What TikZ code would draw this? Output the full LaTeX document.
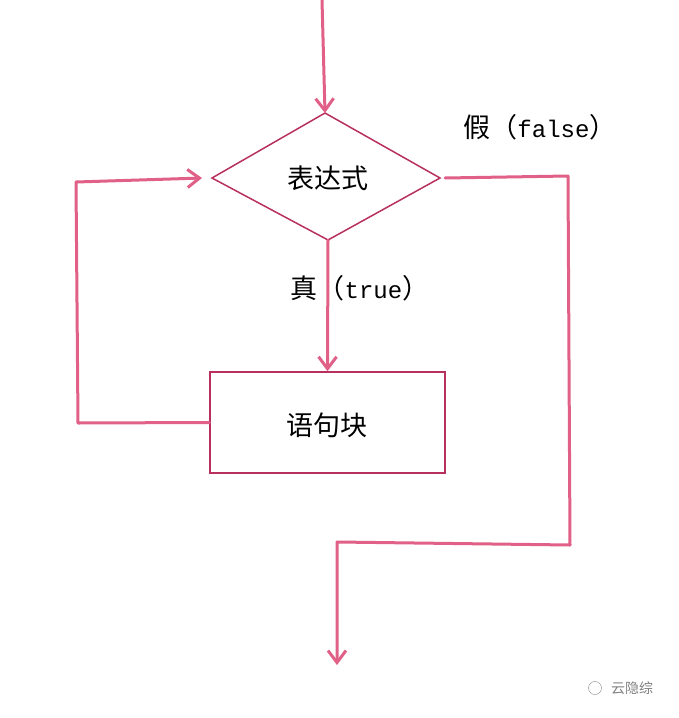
\documentclass[tikz,border=0pt]{standalone}
\usepackage{fontspec}
\setmainfont{Noto Sans CJK SC}
\newfontfamily\mono{Liberation Mono}
\usetikzlibrary{arrows.meta}
\definecolor{pk}{HTML}{E06088}
\definecolor{bx}{HTML}{B83060}
\tikzset{
  flow/.style={draw=pk,line width=3pt,line cap=round,line join=round},
  arr/.style={flow,-{Straight Barb[length=12pt,width=18pt,line width=3pt]}},
  lbl/.style={font=\fontsize{27}{30}\selectfont}
}
\begin{document}
\begin{tikzpicture}[x=1pt,y=-1pt]
\useasboundingbox (0,0) rectangle (678,718);
\coordinate (dt) at (325,113);
\coordinate (dl) at (212,178);
\coordinate (dr) at (440,178);
\coordinate (db) at (328,240);
\draw[bx,line width=1.5pt] (dt) -- (dr) -- (db) -- (dl) -- cycle;
\node[lbl] (cond) at (328,178) {表达式};
\node[draw=bx,line width=1.5pt,minimum width=235pt,minimum height=101pt,inner sep=0pt] (blk) at (327.5,422.5) {};
\node[lbl] (blkt) at (327,425) {语句块};
\coordinate (top) at (322,0);
\draw[arr] (top) -- (dt);
\draw[arr] (db) -- (blk.north);
\coordinate (l1) at (78,423);
\coordinate (l2) at (76,182);
\draw[arr] (blk.west) -- (l1) -- (l2) -- ([xshift=-10pt]dl);
\coordinate (r1) at (568,176);
\coordinate (r2) at (570,545);
\coordinate (r3) at (337,542);
\coordinate (end) at (337,665);
\draw[arr] ([xshift=5pt]dr) -- (r1) -- (r2) -- (r3) -- (end);
\node[lbl] (f) at (540,127) {假（{\mono\fontsize{24}{28}\selectfont false}）};
\node[lbl] (t) at (360,288) {真（{\mono\fontsize{24}{28}\selectfont true}）};
\node[font=\fontsize{14}{16}\selectfont,text=gray] (wm) at (632,688) {云隐综};
\node[draw=gray,circle,minimum size=13pt,inner sep=0pt] (wi) at (595,688) {};
\end{tikzpicture}
\end{document}
